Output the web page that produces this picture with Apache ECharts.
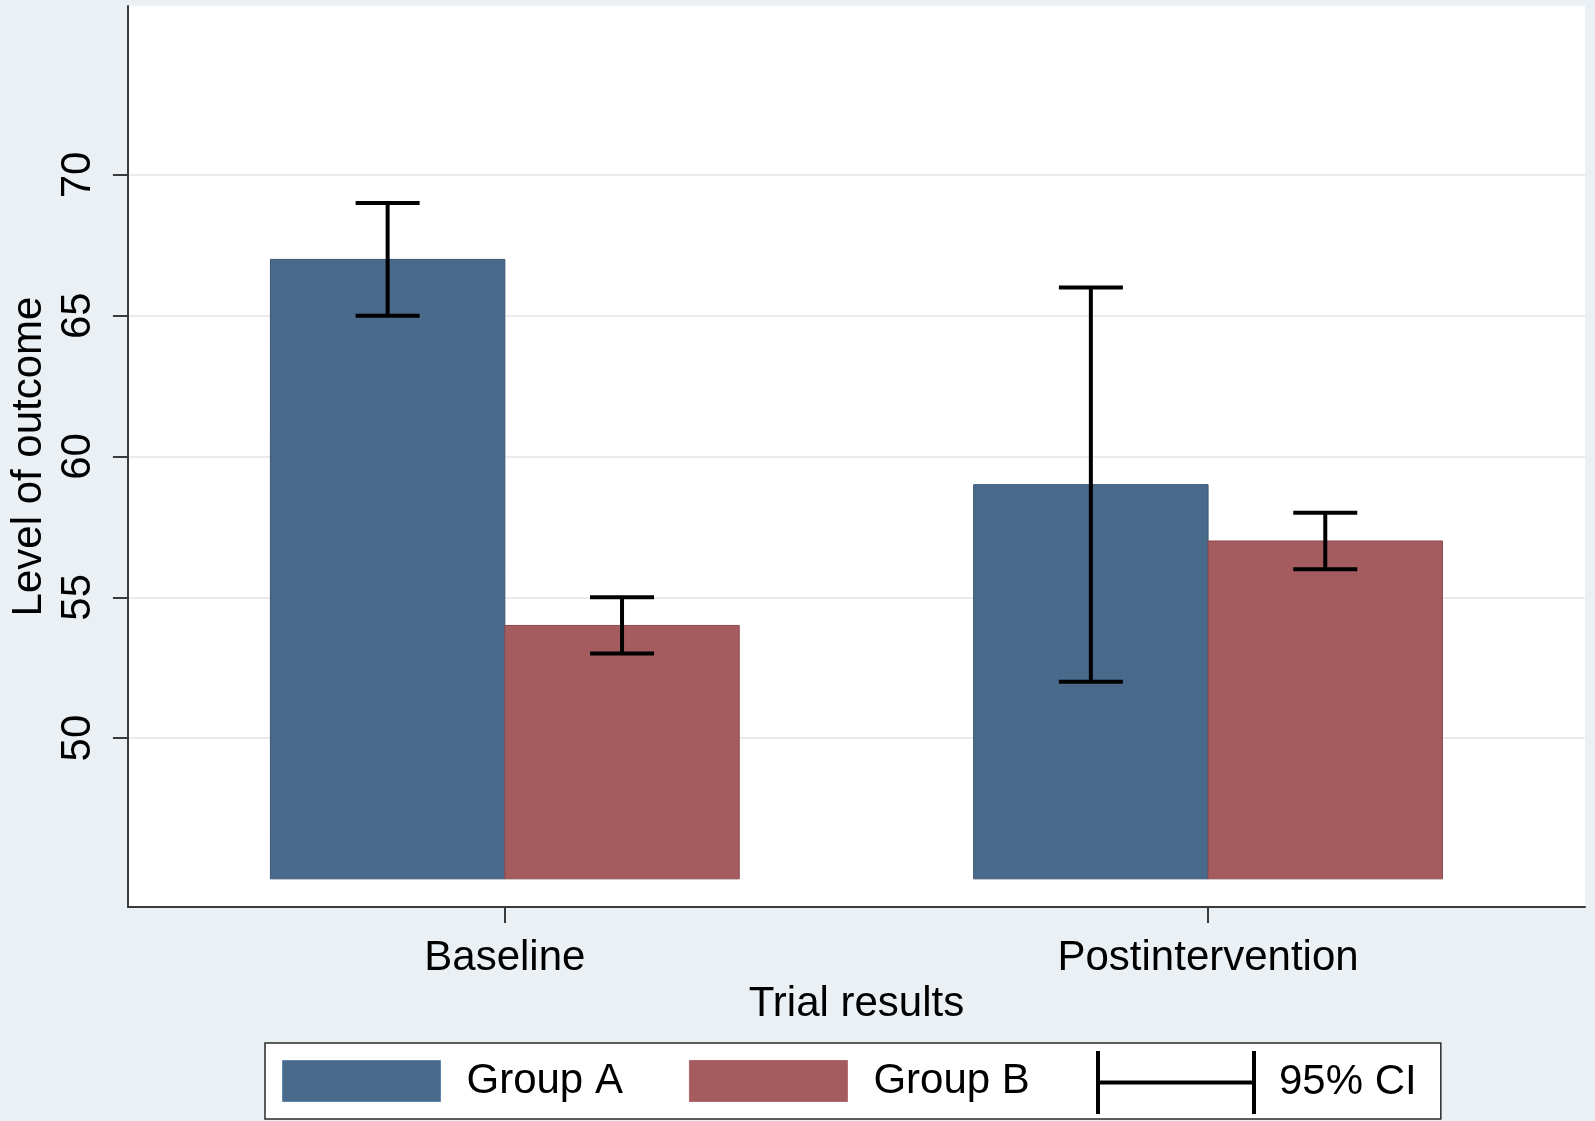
<!DOCTYPE html>
<html>
<head>
<meta charset="utf-8">
<script src="https://cdn.jsdelivr.net/npm/echarts@6/dist/echarts.min.js"></script>
<style>
html,body{margin:0;padding:0;background:#eaf0f3;}
#chart{width:1595px;height:1121px;}
</style>
</head>
<body>
<div id="chart"></div>
<script>
// ---- data ----
const categories = ['Baseline', 'Postintervention'];
const groupA = [67, 59];
const groupB = [54, 57];
const groupACiLow = [65, 52];
const groupACiHigh = [69, 66];
const groupBCiLow = [53, 56];
const groupBCiHigh = [55, 58];
const yTickValues = [50, 55, 60, 65, 70];
const seriesNames = ['Group A', 'Group B', '95% CI'];
const barBase = 45;
const axisTitles = { x: 'Trial results', y: 'Level of outcome' };

// ---- style constants ----
const BW = 1 / 3;          // bar width in category units
const CAP = 32;            // CI cap half-width (px)
const FONT = 'Liberation Sans, Arial, Helvetica, sans-serif';
const FS = 42;
const colA = '#496a8b', colB = '#a55c5f';
const edgeA = '#3a5675', edgeB = '#8c4b4f';

const chart = echarts.init(document.getElementById('chart'), null, { renderer: 'canvas' });

function barRenderer(side) {
  return function (params, api) {
    const c = api.value(0), v = api.value(1);
    const x0 = side < 0 ? c - BW : c;
    const x1 = side < 0 ? c : c + BW;
    const p0 = api.coord([x0, barBase]);
    const p1 = api.coord([x1, v]);
    return {
      type: 'rect',
      shape: { x: p0[0], y: p1[1], width: p1[0] - p0[0], height: p0[1] - p1[1] },
      style: api.style()
    };
  };
}

const dataA = groupA.map((v, i) => [i, v]);
const dataB = groupB.map((v, i) => [i, v]);
const ciData = [];
categories.forEach((c, i) => {
  ciData.push([i - BW / 2, groupACiLow[i], groupACiHigh[i]]);
  ciData.push([i + BW / 2, groupBCiLow[i], groupBCiHigh[i]]);
});

const option = {
  backgroundColor: '#eaf0f3',
  animation: false,
  textStyle: { fontFamily: FONT },
  grid: {
    left: 124, right: 10, top: 6, bottom: 214,
    show: true, backgroundColor: '#ffffff', borderWidth: 0
  },
  xAxis: {
    type: 'value',
    min: -0.536, max: 1.536,
    name: axisTitles.x,
    nameLocation: 'middle',
    nameGap: 64,
    nameTextStyle: { fontSize: FS, color: '#000', fontFamily: FONT },
    axisLine: { show: true, onZero: false, lineStyle: { color: '#3a3a3a', width: 2 } },
    axisTick: { show: true, customValues: [0, 1], length: 16, lineStyle: { color: '#3a3a3a', width: 2 } },
    axisLabel: {
      customValues: [0, 1],
      formatter: v => categories[Math.round(v)],
      fontSize: FS, color: '#000', margin: 30, fontFamily: FONT
    },
    splitLine: { show: false }
  },
  yAxis: {
    type: 'value',
    min: 44, max: 76,
    name: axisTitles.y,
    nameLocation: 'middle',
    nameGap: 71,
    nameTextStyle: { fontSize: FS, color: '#000', fontFamily: FONT },
    axisLine: { show: true, onZero: false, lineStyle: { color: '#3a3a3a', width: 2 } },
    axisTick: { show: true, customValues: yTickValues, length: 15, lineStyle: { color: '#3a3a3a', width: 2 } },
    axisLabel: {
      customValues: yTickValues,
      rotate: 90,
      fontSize: FS, color: '#000', margin: 28, fontFamily: FONT
    },
    splitLine: { show: true, lineStyle: { color: '#ebebeb', width: 2 } }
  },
  legend: [
    {
      selectedMode: false,
      orient: 'horizontal',
      left: 265, top: 1043,
      padding: [17, 411, 17, 17],
      itemWidth: 158, itemHeight: 41,
      itemGap: 66,
      backgroundColor: '#ffffff',
      borderColor: '#2a2a2a', borderWidth: 1.5, borderRadius: 0,
      textStyle: { fontSize: FS, color: '#000', fontFamily: FONT, padding: [12, 0, 0, 21] },
      data: [
        { name: seriesNames[0], icon: 'rect', itemStyle: { color: colA, borderColor: '#5f87ad', borderWidth: 1 } },
        { name: seriesNames[1], icon: 'rect', itemStyle: { color: colB, borderColor: '#b06a6d', borderWidth: 1 } }
      ]
    },
    {
      selectedMode: false,
      left: 1096, top: 1051,
      padding: 0,
      itemWidth: 160, itemHeight: 63,
      textStyle: { fontSize: FS, color: '#000', fontFamily: FONT, padding: [12, 0, 0, 18] },
      data: [
        {
          name: seriesNames[2],
          icon: 'path://M0,0h4v63h-4z M156,0h4v63h-4z M4,29.5h152v4h-152z',
          itemStyle: { color: '#000', borderWidth: 0 }
        }
      ]
    }
  ],
  series: [
    {
      name: seriesNames[0],
      type: 'custom',
      renderItem: barRenderer(-1),
      itemStyle: { color: colA, borderColor: edgeA, borderWidth: 1 },
      encode: { x: 0, y: 1 },
      data: dataA,
      z: 2
    },
    {
      name: seriesNames[1],
      type: 'custom',
      renderItem: barRenderer(1),
      itemStyle: { color: colB, borderColor: edgeB, borderWidth: 1 },
      encode: { x: 0, y: 1 },
      data: dataB,
      z: 2
    },
    {
      name: seriesNames[2],
      type: 'custom',
      itemStyle: { color: '#000' },
      encode: { x: 0, y: [1, 2] },
      data: ciData,
      z: 3,
      renderItem: function (params, api) {
        const x = api.value(0), lo = api.value(1), hi = api.value(2);
        const pLo = api.coord([x, lo]);
        const pHi = api.coord([x, hi]);
        const st = { stroke: '#000', lineWidth: 4, fill: null };
        return {
          type: 'group',
          children: [
            { type: 'line', shape: { x1: pLo[0], y1: pLo[1], x2: pHi[0], y2: pHi[1] }, style: st },
            { type: 'line', shape: { x1: pLo[0] - CAP, y1: pLo[1], x2: pLo[0] + CAP, y2: pLo[1] }, style: st },
            { type: 'line', shape: { x1: pHi[0] - CAP, y1: pHi[1], x2: pHi[0] + CAP, y2: pHi[1] }, style: st }
          ]
        };
      }
    }
  ]
};
chart.setOption(option);
</script>
</body>
</html>
